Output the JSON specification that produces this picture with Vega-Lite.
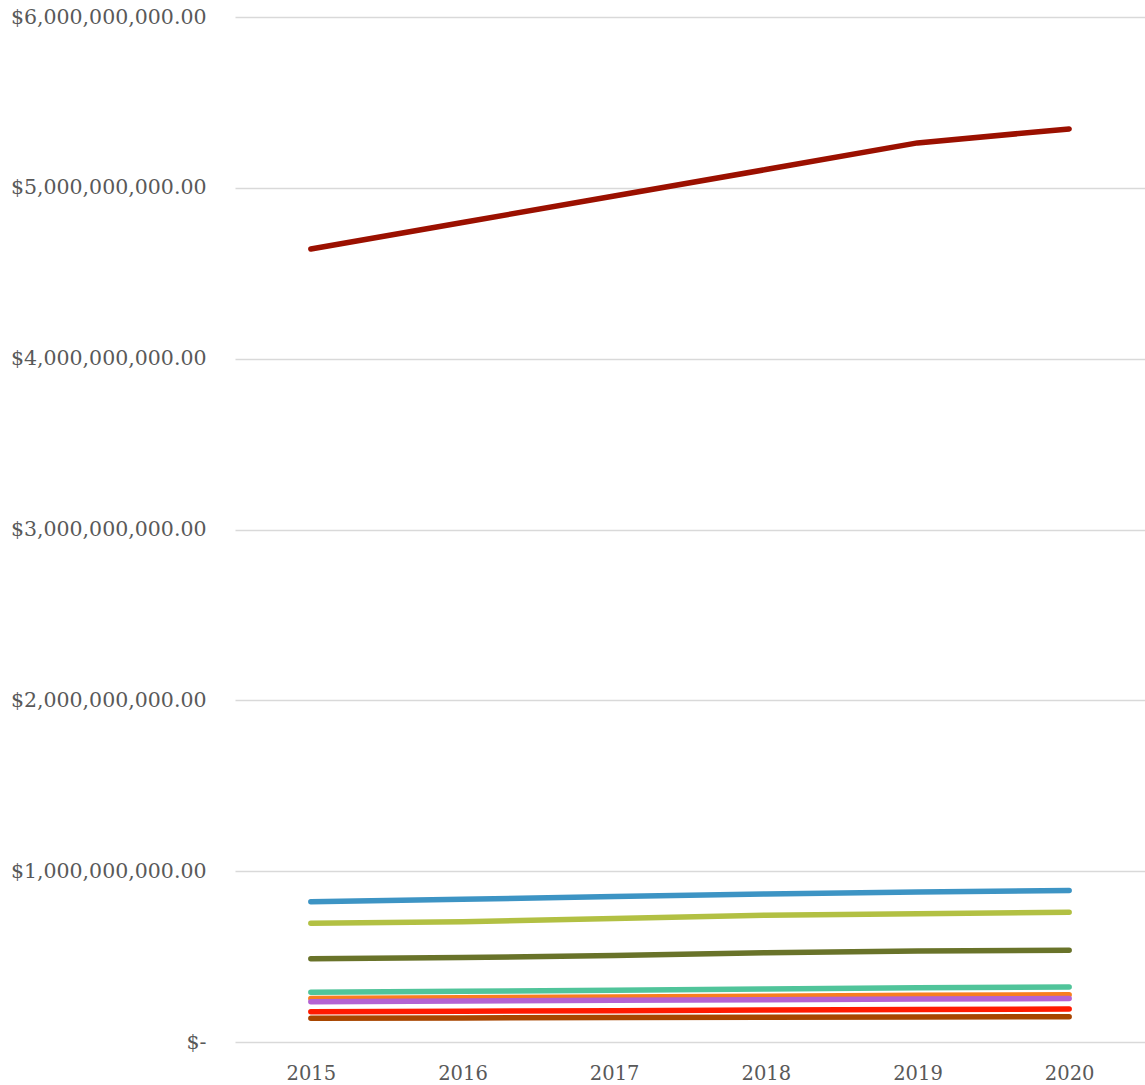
{
  "$schema": "https://vega.github.io/schema/vega-lite/v6.json",
  "autosize": {"type": "fit", "contains": "padding"},
  "width": 1145,
  "height": 1085,
  "padding": {"left": 10, "top": 7, "right": 0, "bottom": 2},
  "background": "white",
  "config": {"view": {"stroke": null}},
  "data": {
    "values": [
      {"year": "2015", "series": "A", "value": 4642000000},
      {"year": "2016", "series": "A", "value": 4797000000},
      {"year": "2017", "series": "A", "value": 4952000000},
      {"year": "2018", "series": "A", "value": 5107000000},
      {"year": "2019", "series": "A", "value": 5263000000},
      {"year": "2020", "series": "A", "value": 5345000000},
      {"year": "2015", "series": "B", "value": 821000000},
      {"year": "2016", "series": "B", "value": 835000000},
      {"year": "2017", "series": "B", "value": 851000000},
      {"year": "2018", "series": "B", "value": 866000000},
      {"year": "2019", "series": "B", "value": 878000000},
      {"year": "2020", "series": "B", "value": 887000000},
      {"year": "2015", "series": "C", "value": 695000000},
      {"year": "2016", "series": "C", "value": 704000000},
      {"year": "2017", "series": "C", "value": 723000000},
      {"year": "2018", "series": "C", "value": 742000000},
      {"year": "2019", "series": "C", "value": 751000000},
      {"year": "2020", "series": "C", "value": 759000000},
      {"year": "2015", "series": "D", "value": 488000000},
      {"year": "2016", "series": "D", "value": 494000000},
      {"year": "2017", "series": "D", "value": 506000000},
      {"year": "2018", "series": "D", "value": 523000000},
      {"year": "2019", "series": "D", "value": 533000000},
      {"year": "2020", "series": "D", "value": 537000000},
      {"year": "2015", "series": "E", "value": 291000000},
      {"year": "2016", "series": "E", "value": 297000000},
      {"year": "2017", "series": "E", "value": 303000000},
      {"year": "2018", "series": "E", "value": 310000000},
      {"year": "2019", "series": "E", "value": 317000000},
      {"year": "2020", "series": "E", "value": 322000000},
      {"year": "2015", "series": "F", "value": 254000000},
      {"year": "2016", "series": "F", "value": 259000000},
      {"year": "2017", "series": "F", "value": 264000000},
      {"year": "2018", "series": "F", "value": 268000000},
      {"year": "2019", "series": "F", "value": 273000000},
      {"year": "2020", "series": "F", "value": 277000000},
      {"year": "2015", "series": "G", "value": 236000000},
      {"year": "2016", "series": "G", "value": 240000000},
      {"year": "2017", "series": "G", "value": 244000000},
      {"year": "2018", "series": "G", "value": 248000000},
      {"year": "2019", "series": "G", "value": 251000000},
      {"year": "2020", "series": "G", "value": 254000000},
      {"year": "2015", "series": "H", "value": 177000000},
      {"year": "2016", "series": "H", "value": 180000000},
      {"year": "2017", "series": "H", "value": 183000000},
      {"year": "2018", "series": "H", "value": 187000000},
      {"year": "2019", "series": "H", "value": 190000000},
      {"year": "2020", "series": "H", "value": 193000000},
      {"year": "2015", "series": "I", "value": 139000000},
      {"year": "2016", "series": "I", "value": 141000000},
      {"year": "2017", "series": "I", "value": 143000000},
      {"year": "2018", "series": "I", "value": 145000000},
      {"year": "2019", "series": "I", "value": 147000000},
      {"year": "2020", "series": "I", "value": 148000000}
    ]
  },
  "mark": {"type": "line", "strokeWidth": 5.5, "strokeCap": "round", "strokeJoin": "round"},
  "encoding": {
    "x": {
      "field": "year", "type": "ordinal",
      "scale": {"type": "point", "padding": 0.5},
      "axis": {
        "title": null, "labelAngle": 0, "domain": false, "ticks": false, "grid": false,
        "labelFont": "DejaVu Serif", "labelFontSize": 19.5, "labelColor": "#595959", "labelPadding": 22
      }
    },
    "y": {
      "field": "value", "type": "quantitative",
      "scale": {"domain": [0, 6000000000], "nice": false, "zero": true},
      "axis": {
        "title": null, "domain": false, "ticks": false, "labelLimit": 0,
        "values": [0, 1000000000, 2000000000, 3000000000, 4000000000, 5000000000, 6000000000],
        "labelExpr": "datum.value == 0 ? '$-' : format(datum.value, '$,.2f')",
        "labelFont": "DejaVu Serif", "labelFontSize": 20.5, "labelColor": "#595959", "labelPadding": 29,
        "gridColor": "#d9d9d9", "gridWidth": 1.5
      }
    },
    "color": {
      "field": "series", "type": "nominal", "legend": null,
      "scale": {
        "domain": ["A", "B", "C", "D", "E", "F", "G", "H", "I"],
        "range": ["#9B1000", "#3D94C4", "#B2C043", "#69732A", "#50C49A", "#F97E1F", "#B463D3", "#FF1A00", "#A84600"]
      }
    }
  }
}
